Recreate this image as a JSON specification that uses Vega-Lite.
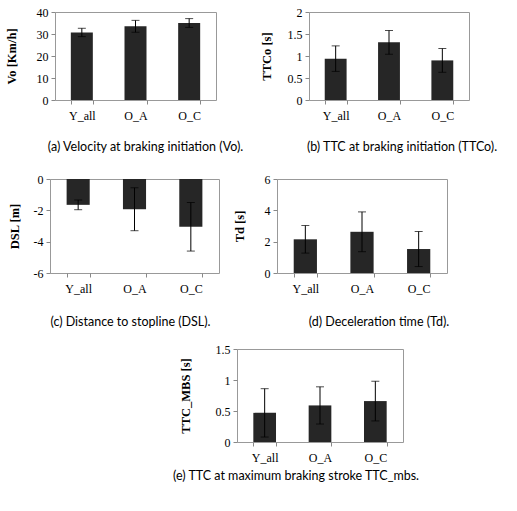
{
  "$schema": "https://vega.github.io/schema/vega-lite/v6.json",
  "padding": {"left": 0, "top": 5, "right": 0, "bottom": 0},
  "background": "white",
  "data": {"values": [
    {"panel": "a", "group": "Y_all", "value": 30.7, "err": 1.9},
    {"panel": "a", "group": "O_A", "value": 33.5, "err": 2.7},
    {"panel": "a", "group": "O_C", "value": 35.0, "err": 2.0},
    {"panel": "b", "group": "Y_all", "value": 0.94, "err": 0.29},
    {"panel": "b", "group": "O_A", "value": 1.31, "err": 0.27},
    {"panel": "b", "group": "O_C", "value": 0.90, "err": 0.27},
    {"panel": "c", "group": "Y_all", "value": -1.65, "err": 0.31},
    {"panel": "c", "group": "O_A", "value": -1.93, "err": 1.37},
    {"panel": "c", "group": "O_C", "value": -3.05, "err": 1.55},
    {"panel": "d", "group": "Y_all", "value": 2.15, "err": 0.88},
    {"panel": "d", "group": "O_A", "value": 2.63, "err": 1.27},
    {"panel": "d", "group": "O_C", "value": 1.53, "err": 1.12},
    {"panel": "e", "group": "Y_all", "value": 0.47, "err": 0.39},
    {"panel": "e", "group": "O_A", "value": 0.59, "err": 0.30},
    {"panel": "e", "group": "O_C", "value": 0.66, "err": 0.32}
  ]},
  "spacing": 13,
  "vconcat": [
    {
      "spacing": 18,
      "vconcat": [
        {
          "bounds": "flush",
          "spacing": 0,
          "hconcat": [
            {"width": 55, "height": 10, "mark": {"type": "point", "opacity": 0}, "encoding": {}, "view": {"stroke": null}},
            {
              "width": 161, "height": 88,
              "transform": [{"filter": "datum.panel === 'a'"}],
              "title": {"text": "(a) Velocity at braking initiation (Vo).", "orient": "bottom", "dx": 10, "offset": 20},
              "encoding": {
                "x": {"field": "group", "type": "nominal", "sort": ["Y_all", "O_A", "O_C"], "scale": {"paddingInner": 0.59, "paddingOuter": 0.295}, "axis": {"title": null}},
                "y": {"field": "value", "type": "quantitative", "title": "Vo [Km/h]", "scale": {"domain": [0, 40]}, "axis": {"values": [0, 10, 20, 30, 40], "titlePadding": 18}}
              },
              "layer": [
                {"mark": {"type": "bar", "color": "#262626"}},
                {"mark": {"type": "errorbar", "color": "black", "ticks": {"size": 8, "thickness": 1}, "rule": {"strokeWidth": 1}},
                 "encoding": {"yError": {"field": "err"}}}
              ]
            },
            {"width": 93, "height": 10, "mark": {"type": "point", "opacity": 0}, "encoding": {}, "view": {"stroke": null}},
            {
              "width": 160, "height": 88,
              "transform": [{"filter": "datum.panel === 'b'"}],
              "title": {"text": "(b) TTC at braking initiation  (TTCo).", "orient": "bottom", "dx": 13, "offset": 20},
              "encoding": {
                "x": {"field": "group", "type": "nominal", "sort": ["Y_all", "O_A", "O_C"], "scale": {"paddingInner": 0.59, "paddingOuter": 0.295}, "axis": {"title": null}},
                "y": {"field": "value", "type": "quantitative", "title": "TTCo [s]", "scale": {"domain": [0, 2]}, "axis": {"values": [0, 0.5, 1, 1.5, 2], "titlePadding": 14}}
              },
              "layer": [
                {"mark": {"type": "bar", "color": "#262626"}},
                {"mark": {"type": "errorbar", "color": "black", "ticks": {"size": 8, "thickness": 1}, "rule": {"strokeWidth": 1}},
                 "encoding": {"yError": {"field": "err"}}}
              ]
            }
          ]
        },
        {
          "bounds": "flush",
          "spacing": 0,
          "hconcat": [
            {"width": 50, "height": 10, "mark": {"type": "point", "opacity": 0}, "encoding": {}, "view": {"stroke": null}},
            {
              "width": 169, "height": 94,
              "transform": [{"filter": "datum.panel === 'c'"}],
              "title": {"text": "(c) Distance to stopline (DSL).", "orient": "bottom", "dx": -4, "offset": 22},
              "encoding": {
                "x": {"field": "group", "type": "nominal", "sort": ["Y_all", "O_A", "O_C"], "scale": {"paddingInner": 0.59, "paddingOuter": 0.295}, "axis": {"title": null}},
                "y": {"field": "value", "type": "quantitative", "title": "DSL [m]", "scale": {"domain": [-6, 0]}, "axis": {"values": [-6, -4, -2, 0], "titlePadding": 12}}
              },
              "layer": [
                {"mark": {"type": "bar", "color": "#262626"}},
                {"mark": {"type": "errorbar", "color": "black", "ticks": {"size": 8, "thickness": 1}, "rule": {"strokeWidth": 1}},
                 "encoding": {"yError": {"field": "err"}}}
              ]
            },
            {"width": 58, "height": 10, "mark": {"type": "point", "opacity": 0}, "encoding": {}, "view": {"stroke": null}},
            {
              "width": 170, "height": 94,
              "transform": [{"filter": "datum.panel === 'd'"}],
              "title": {"text": "(d) Deceleration time  (Td).", "orient": "bottom", "dx": 17, "offset": 22},
              "encoding": {
                "x": {"field": "group", "type": "nominal", "sort": ["Y_all", "O_A", "O_C"], "scale": {"paddingInner": 0.59, "paddingOuter": 0.295}, "axis": {"title": null}},
                "y": {"field": "value", "type": "quantitative", "title": "Td [s]", "scale": {"domain": [0, 6]}, "axis": {"values": [0, 2, 4, 6], "titlePadding": 18}}
              },
              "layer": [
                {"mark": {"type": "bar", "color": "#262626"}},
                {"mark": {"type": "errorbar", "color": "black", "ticks": {"size": 8, "thickness": 1}, "rule": {"strokeWidth": 1}},
                 "encoding": {"yError": {"field": "err"}}}
              ]
            }
          ]
        }
      ]
    },
    {
      "bounds": "flush",
      "spacing": 0,
      "hconcat": [
        {"width": 237, "height": 10, "mark": {"type": "point", "opacity": 0}, "encoding": {}, "view": {"stroke": null}},
        {
          "width": 166, "height": 93,
          "transform": [{"filter": "datum.panel === 'e'"}],
          "title": {"text": "(e) TTC at maximum  braking stroke TTC_mbs.", "orient": "bottom", "dx": -24, "offset": 7},
          "encoding": {
            "x": {"field": "group", "type": "nominal", "sort": ["Y_all", "O_A", "O_C"], "scale": {"paddingInner": 0.59, "paddingOuter": 0.295}, "axis": {"title": null}},
            "y": {"field": "value", "type": "quantitative", "title": "TTC_MBS [s]", "scale": {"domain": [0, 1.5]}, "axis": {"values": [0, 0.5, 1, 1.5], "titlePadding": 23}}
          },
          "layer": [
            {"mark": {"type": "bar", "color": "#262626"}},
            {"mark": {"type": "errorbar", "color": "black", "ticks": {"size": 8, "thickness": 1}, "rule": {"strokeWidth": 1}},
             "encoding": {"yError": {"field": "err"}}}
          ]
        }
      ]
    }
  ],
  "config": {
    "view": {"stroke": "#999999", "strokeWidth": 1},
    "axis": {
      "domain": false,
      "grid": false,
      "tickColor": "#888888",
      "tickSize": 4,
      "labelFont": "Liberation Serif",
      "labelFontSize": 12,
      "labelColor": "black",
      "labelPadding": 3,
      "labelOverlap": false,
      "titleFont": "Liberation Serif",
      "titleFontSize": 12.5,
      "titleFontWeight": "bold",
      "titleColor": "black"
    },
    "axisX": {"labelAngle": 0, "tickBand": "extent", "labelPadding": 6},
    "axisY": {"labelExpr": "'' + datum.value"},
    "title": {"font": "Lato", "fontSize": 12.5, "fontWeight": "normal", "color": "black", "anchor": "middle", "frame": "group"}
  }
}
